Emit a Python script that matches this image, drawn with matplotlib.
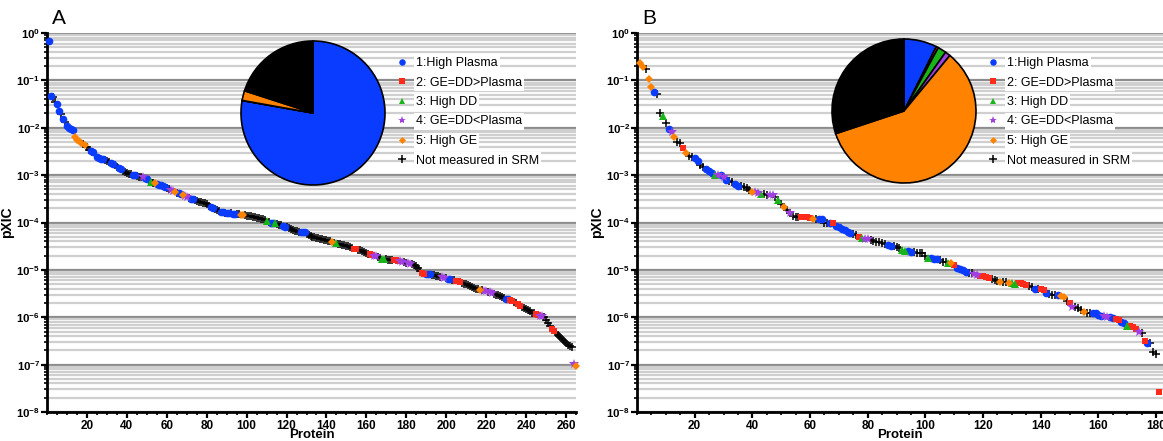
import matplotlib
matplotlib.use('Agg')
import matplotlib.pyplot as plt
import numpy as np
from matplotlib.lines import Line2D
from matplotlib.ticker import FixedLocator, MultipleLocator, NullFormatter

plt.rcParams['font.family'] = ['Liberation Sans', 'DejaVu Sans']
plt.rcParams['mathtext.fontset'] = 'custom'
plt.rcParams['mathtext.rm'] = 'Liberation Sans'
plt.rcParams['mathtext.bf'] = 'Liberation Sans:bold'

# groups: index 0..5 -> code digits 1..5 and 0 (not measured)
group_codes = ['1', '2', '3', '4', '5', '0']
group_labels = ['1:High Plasma', '2: GE=DD>Plasma', '3: High DD',
                '4: GE=DD<Plasma', '5: High GE', 'Not measured in SRM']
group_colors = ['#0a3cff', '#ff2a1a', '#18b418', '#a040e0', '#ff8200', '#000000']
group_markers = ['o', 's', '^', '*', 'D', '+']
group_sizes = [5.5, 5, 5.5, 7, 4.2, 6]

# panel A: log10(pXIC) per protein rank, and group code per protein
log_pxic_a = [
    -0.17, -1.33, -1.36, -1.45, -1.50, -1.65, -1.72, -1.81, -1.88, -1.96,
    -2.00, -2.03, -2.05, -2.20, -2.25, -2.29, -2.32, -2.34, -2.36, -2.40,
    -2.47, -2.50, -2.52, -2.57, -2.61, -2.64, -2.65, -2.66, -2.69, -2.71,
    -2.73, -2.75, -2.77, -2.79, -2.82, -2.85, -2.87, -2.91, -2.94, -2.96,
    -2.97, -2.98, -2.99, -3.00, -3.02, -3.03, -3.04, -3.05, -3.06, -3.08,
    -3.11, -3.14, -3.16, -3.17, -3.18, -3.20, -3.21, -3.23, -3.25, -3.27,
    -3.29, -3.31, -3.33, -3.35, -3.37, -3.38, -3.40, -3.43, -3.44, -3.46,
    -3.48, -3.50, -3.51, -3.53, -3.55, -3.56, -3.57, -3.58, -3.59, -3.61,
    -3.65, -3.67, -3.69, -3.71, -3.73, -3.75, -3.77, -3.78, -3.79, -3.80,
    -3.80, -3.81, -3.82, -3.82, -3.83, -3.83, -3.84, -3.84, -3.85, -3.86,
    -3.87, -3.87, -3.88, -3.89, -3.90, -3.91, -3.92, -3.93, -3.94, -3.96,
    -3.98, -4.00, -4.01, -4.02, -4.03, -4.05, -4.06, -4.07, -4.09, -4.10,
    -4.12, -4.13, -4.15, -4.17, -4.18, -4.19, -4.19, -4.20, -4.21, -4.24,
    -4.26, -4.28, -4.30, -4.31, -4.32, -4.33, -4.34, -4.35, -4.36, -4.37,
    -4.38, -4.40, -4.42, -4.43, -4.44, -4.45, -4.46, -4.47, -4.48, -4.49,
    -4.50, -4.52, -4.53, -4.55, -4.56, -4.58, -4.59, -4.61, -4.62, -4.64,
    -4.66, -4.67, -4.68, -4.70, -4.71, -4.72, -4.74, -4.76, -4.77, -4.78,
    -4.79, -4.80, -4.80, -4.80, -4.80, -4.81, -4.82, -4.83, -4.84, -4.85,
    -4.86, -4.87, -4.88, -4.89, -4.92, -4.96, -5.02, -5.06, -5.08, -5.08,
    -5.09, -5.09, -5.10, -5.11, -5.12, -5.13, -5.14, -5.15, -5.17, -5.18,
    -5.19, -5.20, -5.21, -5.22, -5.23, -5.24, -5.25, -5.27, -5.29, -5.30,
    -5.32, -5.34, -5.36, -5.38, -5.40, -5.41, -5.42, -5.43, -5.44, -5.45,
    -5.46, -5.47, -5.48, -5.50, -5.52, -5.54, -5.56, -5.58, -5.60, -5.61,
    -5.62, -5.64, -5.65, -5.67, -5.70, -5.73, -5.76, -5.78, -5.80, -5.83,
    -5.85, -5.87, -5.90, -5.92, -5.94, -5.96, -5.97, -5.98, -6.00, -6.05,
    -6.12, -6.18, -6.24, -6.30, -6.34, -6.38, -6.42, -6.46, -6.50, -6.54,
    -6.58, -6.61, -6.63, -6.98, -7.02,
]
group_a = ("1100110101" "1115555050" "0110111100" "0110011000" "0011000411"
           "0305111110" "0445011544" "0110000000" "0110001101" "1011005500"
           "0000000003" "0113000110" "0000001110" "0000000000" "0050300000"
           "0002200000" "0224400330" "0002224400" "4400000221" "1100000440"
           "1100222000" "0000005044" "0440000001" "1220022000" "0000224400"
           "0022000000" "00045")

# panel B
log_pxic_b = [
    -0.63, -0.72, -0.75, -0.97, -1.14, -1.24, -1.28, -1.69, -1.75, -1.90,
    -2.03, -2.09, -2.19, -2.30, -2.33, -2.43, -2.53, -2.59, -2.62, -2.64,
    -2.70, -2.78, -2.83, -2.87, -2.91, -2.95, -3.00, -3.00, -3.00, -3.04,
    -3.10, -3.12, -3.14, -3.19, -3.23, -3.24, -3.25, -3.27, -3.31, -3.35,
    -3.36, -3.38, -3.40, -3.40, -3.41, -3.42, -3.43, -3.46, -3.52, -3.60,
    -3.67, -3.73, -3.80, -3.86, -3.88, -3.88, -3.88, -3.88, -3.89, -3.90,
    -3.92, -3.92, -3.92, -3.93, -4.00, -4.01, -4.01, -4.02, -4.07, -4.10,
    -4.13, -4.16, -4.19, -4.22, -4.24, -4.26, -4.30, -4.32, -4.34, -4.35,
    -4.37, -4.39, -4.41, -4.42, -4.43, -4.45, -4.48, -4.49, -4.50, -4.51,
    -4.53, -4.58, -4.60, -4.61, -4.62, -4.63, -4.64, -4.64, -4.65, -4.70,
    -4.74, -4.75, -4.76, -4.77, -4.80, -4.83, -4.84, -4.85, -4.86, -4.89,
    -4.95, -4.98, -5.00, -5.04, -5.06, -5.07, -5.08, -5.11, -5.12, -5.13,
    -5.15, -5.17, -5.19, -5.21, -5.23, -5.25, -5.25, -5.26, -5.27, -5.28,
    -5.29, -5.27, -5.28, -5.30, -5.32, -5.34, -5.36, -5.40, -5.40, -5.40,
    -5.42, -5.49, -5.51, -5.53, -5.53, -5.53, -5.56, -5.58, -5.65, -5.70,
    -5.78, -5.79, -5.80, -5.84, -5.89, -5.90, -5.91, -5.91, -5.92, -5.95,
    -5.97, -5.98, -5.99, -6.00, -6.01, -6.03, -6.06, -6.10, -6.12, -6.18,
    -6.18, -6.21, -6.24, -6.31, -6.33, -6.50, -6.54, -6.54, -6.73, -6.77,
    -7.57,
]
group_b = ("5505510030" "1450025001" "1001113414" "1001100005" "4430044030"
           "5040002222" "5011001211" "1111002344" "0000001100" "0331100000"
           "3111000352" "1111004422" "2200050053" "3222200102" "2100015502"
           "4000500111" "1441122113" "2224021000" "2")

# pie shares (percent) in group order
pie_a = [77.8, 0.0, 0.0, 0.0, 2.2, 20.0]
pie_b = [7.4, 0.5, 1.9, 1.2, 58.9, 30.1]

ytick_exps = [0, -1, -2, -3, -4, -5, -6, -7, -8]
xtick_vals = [20, 40, 60, 80, 100, 120, 140, 160, 180, 200, 220, 240, 260]

W, H = 1163, 441
fig = plt.figure(figsize=(W / 100, H / 100), dpi=100)


def px_axes(x0, y0, x1, y1):
    # pixel box (top-left origin) -> figure axes
    return fig.add_axes([x0 / W, (H - y1) / H, (x1 - x0) / W, (y1 - y0) / H])


def draw_panel(box, xmax, logs, groups, pie_vals, pie_box, leg_xy, letter, minor_step):
    ax = px_axes(*box)
    ax.set_yscale('log')
    ax.set_ylim(1e-8, 1)
    ax.set_xlim(0, xmax)

    # grid lines
    for e in ytick_exps:
        ax.axhline(10.0 ** e, color='#8c8c8c', lw=1.6, zorder=0)
        if e > -8:
            for m in range(2, 10):
                ax.axhline(m * 10.0 ** (e - 1), color='#cfcfcf', lw=1.6, zorder=0)

    prot = np.arange(1, len(logs) + 1)
    vals = 10.0 ** np.array(logs)
    codes = np.array(list(groups))
    order = [5, 0, 1, 2, 3, 4]
    for i in order:
        sel = codes == group_codes[i]
        if i == 5:
            ax.plot(prot[sel], vals[sel], ls='none', marker='+', color='black',
                    ms=group_sizes[i], mew=1.1, zorder=3, clip_on=False)
        else:
            ax.plot(prot[sel], vals[sel], ls='none', marker=group_markers[i],
                    color=group_colors[i], ms=group_sizes[i], mew=0, zorder=4,
                    clip_on=False)

    ax.yaxis.set_major_locator(FixedLocator([10.0 ** e for e in ytick_exps]))
    ax.set_yticklabels([r'$\mathbf{10^{%d}}$' % e for e in ytick_exps])
    ax.yaxis.set_minor_locator(FixedLocator(
        [m * 10.0 ** e for e in range(-8, 0) for m in range(2, 10)]))
    ax.yaxis.set_minor_formatter(NullFormatter())
    ax.xaxis.set_major_locator(FixedLocator([v for v in xtick_vals if v <= xmax + 1]))
    ax.xaxis.set_minor_locator(MultipleLocator(minor_step))
    ax.tick_params(axis='both', which='major', direction='out', length=4, width=1.6,
                   labelsize=8.5, pad=1.5)
    ax.tick_params(axis='y', which='major', labelsize=8.2, pad=1)
    ax.tick_params(axis='both', which='minor', direction='out', length=2.5, width=1.2)
    for lab in ax.get_xticklabels():
        lab.set_fontweight('bold')
    for s in ['top', 'right']:
        ax.spines[s].set_visible(False)
    for s in ['left', 'bottom']:
        ax.spines[s].set_linewidth(2)
    bw = box[2] - box[0]
    bh = box[3] - box[1]
    ax.set_xlabel('Protein', fontsize=9.5, fontweight='bold')
    ax.xaxis.set_label_coords(0.5, -17.5 / bh)
    ax.set_ylabel('pXIC', fontsize=10, fontweight='bold')
    ax.yaxis.set_label_coords(-33.0 / bw, 0.5)

    handles = [Line2D([], [], ls='none', marker=group_markers[i], color=group_colors[i],
                      ms=group_sizes[i] * 0.85, mew=1.1 if i == 5 else 0)
               for i in range(6)]
    leg = ax.legend(handles, group_labels, loc='upper left',
                    bbox_to_anchor=(leg_xy[0] / W, 1 - leg_xy[1] / H),
                    bbox_transform=fig.transFigure, frameon=False, fontsize=9,
                    handlelength=1.0, handletextpad=0.6, labelspacing=0.6,
                    borderpad=0, borderaxespad=0)
    for t in leg.get_texts():
        t.set_bbox(dict(facecolor='white', edgecolor='none', pad=1.5))

    pax = px_axes(*pie_box)
    wedges, _ = pax.pie(pie_vals, colors=group_colors, startangle=90, counterclock=False,
                        wedgeprops=dict(edgecolor='black', linewidth=1.2))
    for w in wedges:
        w.set_clip_on(False)
    pax.set_xlim(-1, 1)
    pax.set_ylim(-1, 1)
    pax.set_aspect('equal')

    fig.text((box[0] + 5) / W, 1 - 18 / H, letter, fontsize=15, va='center', ha='left')
    return ax


draw_panel((47, 33, 576, 412), 265, log_pxic_a, group_a, pie_a,
           (241, 41, 385, 185), (396, 57), 'A', 5)
draw_panel((637, 33, 1163, 412), 182.4, log_pxic_b, group_b, pie_b,
           (832, 39, 976, 183), (987, 57), 'B', 5)

fig.savefig('out.png', dpi=100)
